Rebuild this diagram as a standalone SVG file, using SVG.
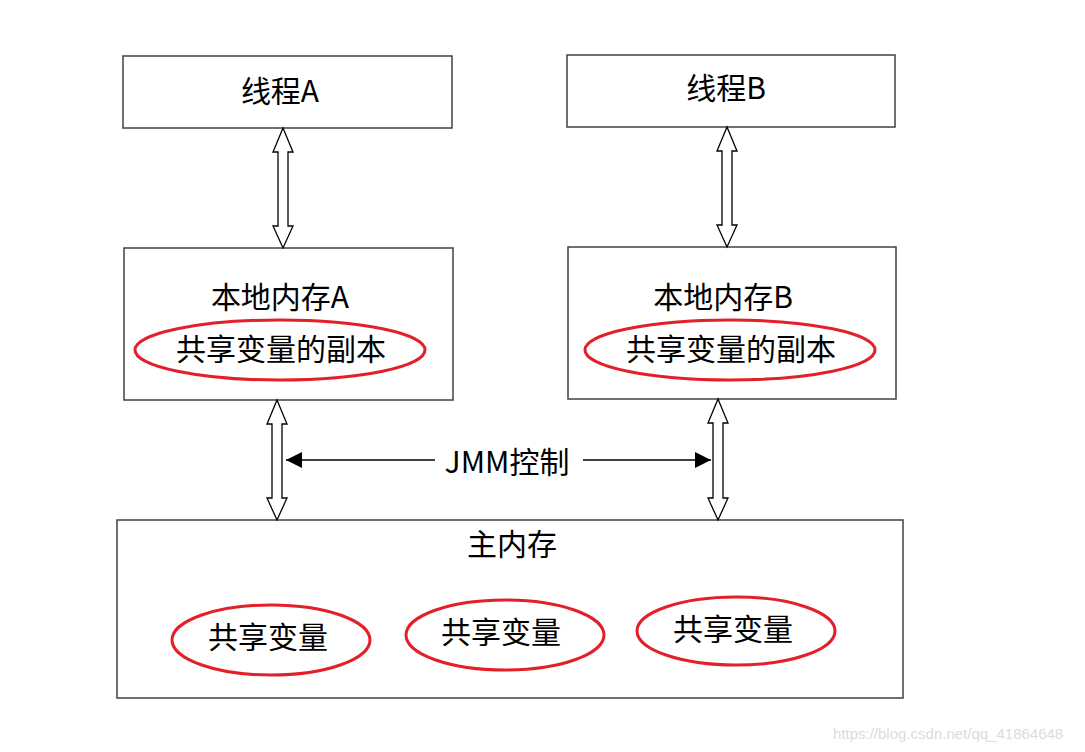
<svg xmlns="http://www.w3.org/2000/svg" width="1085" height="752" viewBox="0 0 1085 752">
<defs>
<style>
.box{fill:#fff;stroke:#404040;stroke-width:1.5}
.oval{fill:none;stroke:#e3202a;stroke-width:3}
.t{font-family:"Microsoft YaHei","Noto Sans CJK SC",sans-serif;font-size:30px;fill:#000;text-anchor:middle;dominant-baseline:central}
.dbl{fill:#fff;stroke:#000;stroke-width:1.3}
.jmm{stroke:#000;stroke-width:1.3;fill:none}
.wm{font-family:"Liberation Sans",Arial,sans-serif;font-size:15px;fill:#dcdcdc}
</style>
<marker id="ah" viewBox="0 0 10 10" refX="10" refY="5" markerWidth="20" markerHeight="16" markerUnits="userSpaceOnUse" orient="auto"><path d="M0,0 L10,5 L0,10 Z" fill="#000"/></marker>
</defs>
<rect width="1085" height="752" fill="#fff"/>
<g id="threadA"><rect class="box" x="123" y="56" width="329" height="72"/><text class="t" x="280" y="89">线程A</text></g>
<g id="threadB"><rect class="box" x="567" y="55" width="328" height="72"/><text class="t" x="726" y="86">线程B</text></g>
<g id="localA"><rect class="box" x="124" y="248" width="329" height="152"/><text class="t" x="280" y="295">本地内存A</text><ellipse class="oval" cx="280" cy="350" rx="145" ry="30"/><text class="t" x="281" y="347">共享变量的副本</text></g>
<g id="localB"><rect class="box" x="568" y="247" width="328" height="152"/><text class="t" x="723" y="295">本地内存B</text><ellipse class="oval" cx="730" cy="350" rx="145" ry="30"/><text class="t" x="731" y="347">共享变量的副本</text></g>
<g id="main"><rect class="box" x="117" y="520" width="786" height="178"/><text class="t" x="512" y="542">主内存</text>
<ellipse class="oval" cx="271" cy="640" rx="99" ry="35"/><text class="t" x="268" y="635">共享变量</text>
<ellipse class="oval" cx="505" cy="635" rx="99" ry="35"/><text class="t" x="501" y="630">共享变量</text>
<ellipse class="oval" cx="736" cy="631" rx="99" ry="34"/><text class="t" x="733" y="627">共享变量</text></g>
<g id="connectors">
<polygon class="dbl" points="283,128 293,152 288,152 288,226 293,226 283,248 273,226 278,226 278,152 273,152"/>
<polygon class="dbl" points="727,127 737,151 732,151 732,225 737,225 727,247 717,225 722,225 722,151 717,151"/>
<polygon class="dbl" points="277,400 287,424 282,424 282,498 287,498 277,520 267,498 272,498 272,424 267,424"/>
<polygon class="dbl" points="718,399 728,423 723,423 723,498 728,498 718,520 708,498 713,498 713,423 708,423"/>
<line class="jmm" x1="435" y1="460" x2="286" y2="460" marker-end="url(#ah)"/>
<line class="jmm" x1="583" y1="460" x2="711" y2="460" marker-end="url(#ah)"/>
<text class="t" x="507" y="460">JMM控制</text>
</g>
<text class="wm" x="833" y="739">https://blog.csdn.net/qq_41864648</text>
</svg>
